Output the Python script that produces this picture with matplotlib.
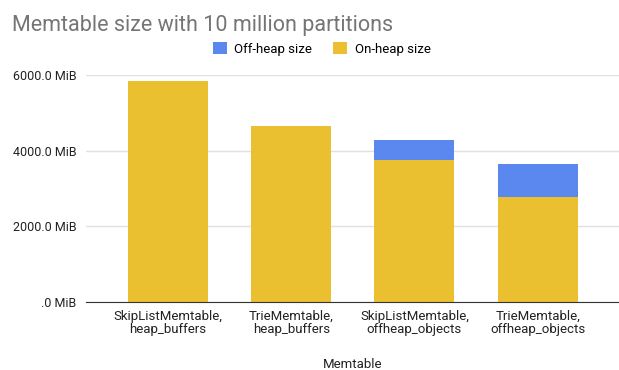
import matplotlib.pyplot as plt
import numpy as np

plt.rcParams['font.family'] = ['Roboto', 'DejaVu Sans']

# data (MiB)
categories = ['SkipListMemtable,\nheap_buffers', 'TrieMemtable,\nheap_buffers',
              'SkipListMemtable,\noffheap_objects', 'TrieMemtable,\noffheap_objects']
on_heap = [5840, 4660, 3755, 2785]
off_heap = [0, 0, 540, 855]
yticks = [0, 2000, 4000, 6000]
ytick_labels = ['.0 MiB', '2000.0 MiB', '4000.0 MiB', '6000.0 MiB']

blue = '#5b88ee'
yellow = '#eabf30'

fig = plt.figure(figsize=(6.19, 3.70), dpi=100)
ax = fig.add_axes([0.139, 0.184, 0.861, 0.613])

x = np.arange(len(categories))
ax.bar(x, on_heap, width=0.65, color=yellow, label='On-heap size', zorder=2)
ax.bar(x, off_heap, width=0.65, bottom=on_heap, color=blue, label='Off-heap size', zorder=2)

ax.set_xlim(-0.665, 3.66)
ax.set_ylim(0, 6000)
ax.set_yticks(yticks)
ax.set_yticklabels(ytick_labels, fontsize=9, color='#222222')
ax.set_xticks(x)
ax.set_xticklabels(categories, fontsize=9.5, color='#222222', linespacing=1.0)
ax.tick_params(length=0, pad=7)
ax.tick_params(axis='x', pad=6)
ax.grid(axis='y', color='#e0e0e0', lw=1, zorder=0)
for s in ['top', 'right', 'left']:
    ax.spines[s].set_visible(False)
ax.spines['bottom'].set_color('#333333')
ax.spines['bottom'].set_zorder(3)
ax.set_xlabel('Memtable', fontsize=9.5, color='#222222', labelpad=16)

fig.text(0.019, 0.96, 'Memtable size with 10 million partitions', fontsize=15.5,
         color='#757575', va='top', ha='left')

handles, labels = ax.get_legend_handles_labels()
fig.legend(handles[::-1], labels[::-1], loc='center', bbox_to_anchor=(0.52, 0.868),
           ncol=2, frameon=False, fontsize=9.5, handlelength=1.0, handleheight=1.0,
           columnspacing=1.6, handletextpad=0.6)

fig.savefig('out.png', dpi=100)
